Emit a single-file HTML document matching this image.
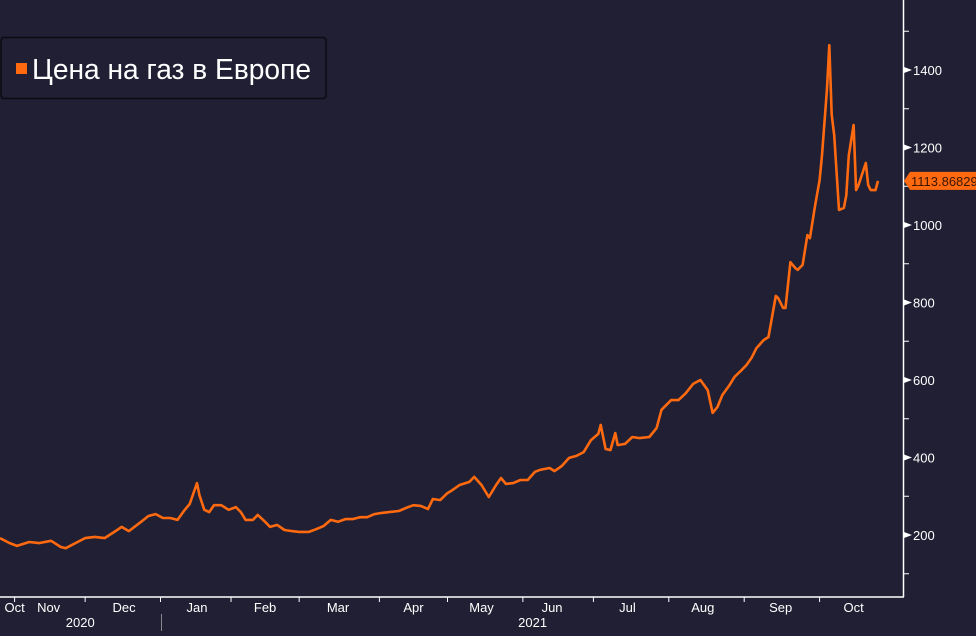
<!DOCTYPE html>
<html><head><meta charset="utf-8"><style>
html,body{margin:0;padding:0;background:#201f33;}
svg{display:block;font-family:"Liberation Sans","DejaVu Sans",sans-serif;}
</style></head><body>
<svg id="chart" width="976" height="636" viewBox="0 0 976 636">
<rect x="0" y="0" width="976" height="636" fill="#201f33"/>
<g id="grid"></g>
<g id="axes"></g>
<g id="series"></g>
<g>
<rect x="1" y="37.5" width="325" height="61" rx="3" fill="#201f33" stroke="#0a0a12" stroke-width="1.5"/>
<rect x="16" y="63" width="11" height="11" fill="#ff6a10"/>
<text x="32" y="79" font-size="29" textLength="279" lengthAdjust="spacingAndGlyphs" fill="#ffffff">Цена на газ в Европе</text>
</g>
</svg>
<script>
const days=[0,4,7,12,16,21,25,27,31,35,39,43,47,50,53,58,61,64,67,70,73,76,78,81,82,84,86,88,91,94,97,99,101,104,106,109,111,114,117,120,123,127,130,133,136,139,142,145,148,151,154,157,160,164,167,170,173,176,178,181,184,186,189,193,195,198,201,204,206,208,211,214,217,220,222,226,228,231,234,237,240,243,246,247,249,251,253,254,257,260,263,267,270,272,276,279,282,285,288,291,293,295,297,300,302,305,307,309,311,314,316,319,320,322,323,325,327,328,330,332,333,335,337,338,340,341,342,343,345,347,348,349,351,352,353,356,357,358,360,361];
const prices=[192,179,172,182,179,185,169,166,179,192,195,192,208,221,210,234,249,254,244,244,239,265,280,334,303,265,259,277,277,265,272,259,239,239,252,234,221,226,213,210,208,208,215,223,239,234,241,241,246,246,254,257,259,262,270,277,275,267,293,290,308,316,329,337,350,329,298,329,347,332,334,342,342,363,368,373,365,378,399,404,414,445,461,484,422,419,463,432,435,453,450,453,476,523,548,548,566,590,600,574,515,530,561,587,608,626,639,657,682,703,711,817,811,786,786,904,889,884,897,974,966,1044,1116,1180,1348,1464,1284,1232,1039,1044,1077,1180,1258,1090,1103,1160,1103,1090,1090,1113.87];
const yTicks=[200,400,600,800,1000,1200,1400];
const monthLabels=["Oct","Nov","Dec","Jan","Feb","Mar","Apr","May","Jun","Jul","Aug","Sep","Oct"];
const monthLabelDays=[6,20,51,81,109,139,170,198,227,258,289,321,351];
const monthTickDays=[6,35,66,95,123,156,184,215,244,275,306,337];
const years=["2020","2021"];
const yearLabelDays=[33,219];
const lastValueLabel="1113.86829";

const NS="http://www.w3.org/2000/svg";
const xS=d=>d*2.432;
const yS=v=>535-(v-200)*0.3875;
function mk(tag,attrs,parent){const e=document.createElementNS(NS,tag);for(const k in attrs)e.setAttribute(k,attrs[k]);parent.appendChild(e);return e;}
const axes=document.getElementById('axes');
const ser=document.getElementById('series');

const ya=mk('line',{x1:903.5,y1:0,x2:903.5,y2:597,stroke:'#ffffff','stroke-width':1.5},axes);


const xa=mk('line',{x1:0,y1:597,x2:904,y2:597,stroke:'#ffffff','stroke-width':1.5},axes);



yTicks.forEach(v=>{
  const y=yS(v);
  const t=mk('path',{d:`M904 ${y-3} L912 ${y} L904 ${y+3} Z`,fill:'#ffffff'},axes);
  
  
  const l=mk('text',{x:913,y:y+5,'font-size':13,fill:'#ffffff'},axes);
  l.textContent=v;
  
  
  const m=mk('line',{x1:904,y1:yS(v+100),x2:909,y2:yS(v+100),stroke:'#ffffff','stroke-width':1},axes);
  
  
});
const m0=mk('line',{x1:904,y1:yS(100),x2:909,y2:yS(100),stroke:'#ffffff','stroke-width':1},axes);



monthTickDays.forEach(d=>{
  const t=mk('line',{x1:xS(d),y1:597,x2:xS(d),y2:602,stroke:'#ffffff','stroke-width':1},axes);
  
  
});
monthLabels.forEach((m,i)=>{
  const l=mk('text',{x:xS(monthLabelDays[i]),y:612,'font-size':13,fill:'#ffffff','text-anchor':'middle'},axes);
  l.textContent=m;
  
  
});
years.forEach((yr,i)=>{
  const l=mk('text',{x:xS(yearLabelDays[i]),y:627,'font-size':13,fill:'#ffffff','text-anchor':'middle'},axes);
  l.textContent=yr;
  
  
});
const sep=mk('line',{x1:161.5,y1:614,x2:161.5,y2:631,stroke:'#888888','stroke-width':1},axes);



const pts=days.map((d,i)=>xS(d).toFixed(1)+','+yS(prices[i]).toFixed(1)).join(' ');
const line=mk('polyline',{points:pts,fill:'none',stroke:'#ff6a10','stroke-width':2.6,'stroke-linejoin':'round'},ser);



const ly=yS(prices[prices.length-1]);
const tag=mk('path',{d:`M904 ${ly} L910 ${ly-9} L976 ${ly-9} L976 ${ly+9} L910 ${ly+9} Z`,fill:'#ff6a10'},ser);


const tt=mk('text',{x:911,y:ly+5,'font-size':13,fill:'#3a1500'},ser);
tt.textContent=lastValueLabel;


</script>
</body></html>
